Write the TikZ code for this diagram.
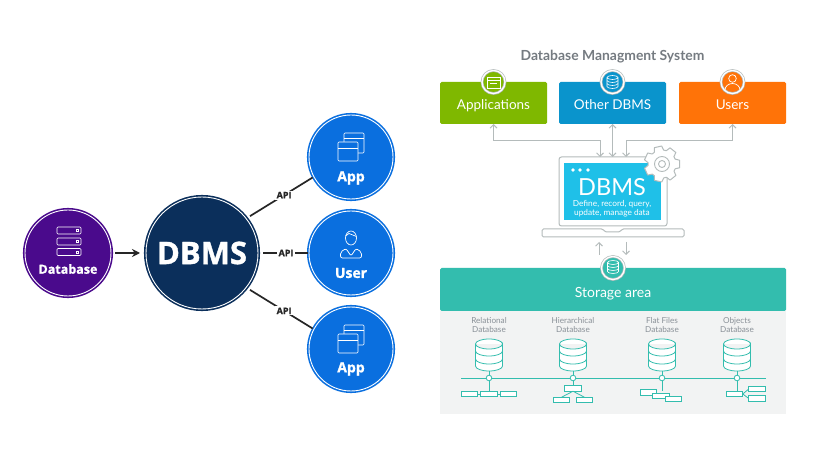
\documentclass[tikz,border=0pt]{standalone}
\usepackage{fontspec}
\setmainfont{Lato}
\newfontfamily\heavyfont[RawFeature={embolden=1.2}]{Open Sans Bold}
\usetikzlibrary{arrows.meta,positioning}
\definecolor{dbpurple}{HTML}{4A0A8C}
\definecolor{dbmsnavy}{HTML}{0B2F5B}
\definecolor{appblue}{HTML}{0A6FDF}
\definecolor{appsgreen}{HTML}{7FB800}
\definecolor{otherblue}{HTML}{0A94CC}
\definecolor{usersorange}{HTML}{FF7308}
\definecolor{screencyan}{HTML}{1FC0E8}
\definecolor{storageteal}{HTML}{33BDAE}
\definecolor{panelgrey}{HTML}{F2F3F3}
\definecolor{linegrey}{HTML}{B4BBBB}
\definecolor{textgrey}{HTML}{8A9198}
\tikzset{
  bubble/.style={circle,draw=#1,fill=#1,double=white,double distance=.9pt,line width=1.6pt,
    minimum size=84pt,inner sep=0pt,outer sep=0pt},
  bubbletext/.style={text=white,font=\heavyfont\fontsize{14}{14}\selectfont,inner sep=0pt},
  apilabel/.style={fill=white,inner sep=1.2pt,font=\heavyfont\fontsize{9}{9}\selectfont,text=black!85},
  apiline/.style={line width=1.7pt,black!85,shorten <=4.5pt,shorten >=1.5pt},
  topbox/.style={rectangle,rounded corners=1.5pt,fill=#1,minimum width=107pt,minimum height=42pt,
    inner sep=0pt,outer sep=0pt},
  boxtext/.style={text=white,anchor=base,font=\fontsize{13.5}{14}\selectfont,inner sep=0pt},
  badge/.style={circle,fill=#1,draw=linegrey,double=white,double distance=1.3pt,line width=.7pt,
    minimum size=23pt,inner sep=0pt},
  greytip/.style={>={Straight Barb[length=3.5pt,width=7pt]},linegrey,line width=.9pt},
  tealline/.style={storageteal,line width=.8pt},
  tealbox/.style={draw=storageteal,line width=.8pt,fill=white,rectangle,minimum width=16.5pt,minimum height=5.5pt,inner sep=0pt,outer sep=0pt},
  dblabel/.style={text=textgrey,font=\fontsize{8.2}{9}\selectfont,align=center,inner sep=0pt},
  appicon/.pic={
    \draw[white,line width=.7pt,fill=appblue,rounded corners=1pt] (-7,-14) rectangle (13,6);
    \draw[white,line width=.7pt] (-7,-9) -- (13,-9);
    \draw[white,line width=.7pt,fill=appblue,rounded corners=1pt] (-13,-5) rectangle (7,14);
    \draw[white,line width=.7pt] (-13,1) -- (7,1);
  },
  cylinder/.pic={
    \draw[tealline,fill=white] (-13.5,-11) -- (-13.5,11) arc[start angle=180,end angle=0,x radius=13.5,y radius=5]
      -- (13.5,-11) arc[start angle=0,end angle=360,x radius=13.5,y radius=5];
    \draw[tealline] (-13.5,-4) arc[start angle=180,end angle=0,x radius=13.5,y radius=5];
    \draw[tealline] (-13.5,4) arc[start angle=180,end angle=0,x radius=13.5,y radius=5];
  },
  smallstack/.pic={
    \draw[white,line width=.6pt] (-5.5,-4.5) -- (-5.5,4.5) arc[start angle=180,end angle=0,x radius=5.5,y radius=2]
      -- (5.5,-4.5) arc[start angle=0,end angle=360,x radius=5.5,y radius=2];
    \draw[white,line width=.6pt] (-5.5,-1.5) arc[start angle=180,end angle=0,x radius=5.5,y radius=2];
    \draw[white,line width=.6pt] (-5.5,1.5) arc[start angle=180,end angle=0,x radius=5.5,y radius=2];
  }
}
\begin{document}
\begin{tikzpicture}[x=1pt,y=-1pt]
  \useasboundingbox[fill=white] (0,0) rectangle (831,465);
  % left part
  \node [bubble=dbpurple,minimum size=86pt] (db) at (68,253) {};
  \node [bubble=dbmsnavy,minimum size=112pt] (dbms) [right=35pt of db] {};
  \node [bubble=appblue] (user) at (351,253) {};
  \node [bubble=appblue] (app_1) [above=12pt of user] {};
  \node [bubble=appblue] (app_2) [below=12pt of user] {};
  \node [bubbletext,font=\heavyfont\fontsize{31}{31}\selectfont] (dbms_text) at (dbms) {DBMS};
  \node [bubbletext,font=\heavyfont\fontsize{12.5}{13}\selectfont] (db_text) at (68,269) {Database};
  \node [bubbletext] (app_1_text) at (351,178) {App};
  \node [bubbletext] (user_text) at (351,273) {User};
  \node [bubbletext] (app_2_text) at (351,369) {App};
  \draw[-{Stealth[length=8pt,width=8pt]},line width=1.5pt,black!85,shorten <=4pt,shorten >=6pt] (db) -- (dbms);
  \draw[apiline] (dbms.38) -- node[apilabel,pos=.56] {API} (app_1.208);
  \draw[apiline,shorten <=0pt] (dbms) ++(61,0) -- node[apilabel] {API} (user.west);
  \draw[apiline] (dbms.-38) -- node[apilabel,pos=.56] {API} (app_2.152);
  % icons of the left part
  \pic at (351,147) {appicon};
  \pic at (351,339) {appicon};
  \foreach \y in {230.5,241.5,252} {
    \draw[white,line width=.7pt,rounded corners=1pt] (57,\y-3.5) rectangle (81,\y+3.5);
    \draw[white,line width=.6pt] (76,\y-1) rectangle (78.5,\y+1);
  }
  \draw[white,line width=.7pt] (351,238) ellipse[x radius=5.5,y radius=7];
  \draw[white,line width=.7pt] (345.5,236) -- (349,233.5) -- (356.5,236.5);
  \draw[white,line width=.7pt,rounded corners=2pt] (340.5,258) -- (340.5,252) -- (346,248.5) -- (351,256) -- (356,248.5) -- (361.5,252) -- (361.5,258) -- cycle;
  % right part
  \node [text=textgrey!85!black,font=\bfseries\fontsize{13.9}{14}\selectfont,inner sep=0pt] (title) at (612.5,57) {Database Managment System};
  \node [topbox=appsgreen] (apps) at (493.5,103) {};
  \node [topbox=otherblue] (other) at (612.5,103) {};
  \node [topbox=usersorange] (users) at (732.5,103) {};
  \node [boxtext] (apps_text) at (493.5,110) {Applications};
  \node [boxtext] (other_text) at (612.5,110) {Other DBMS};
  \node [boxtext] (users_text) at (732.5,110) {Users};
  \node [badge=appsgreen] (apps_badge) at (apps.north) {};
  \node [badge=otherblue] (other_badge) at (other.north) {};
  \node [badge=usersorange] (users_badge) at (users.north) {};
  \draw[white,line width=.6pt] (487,77) rectangle (500,88) (487,80) -- (500,80) (490,83.5) -- (497,83.5);
  \pic at (612.5,82) {smallstack};
  \draw[white,line width=.7pt] (732.5,78.5) circle[radius=3.8] (725,90) arc[start angle=180,end angle=360,x radius=7.5,y radius=6.5];
  % laptop
  \node [rectangle,draw=linegrey,line width=1pt,fill=white,rounded corners=2.5pt,minimum width=108pt,minimum height=69pt,inner sep=0pt,outer sep=0pt] (laptop) at (613,191.5) {};
  \node [rectangle,fill=screencyan,minimum width=97pt,minimum height=57pt,inner sep=0pt] (screen) at (612.5,191.5) {};
  \foreach \x in {573,580,588} { \fill[white] (\x,170) circle[radius=1.8]; }
  \node [text=white,font=\fontsize{23.5}{24}\selectfont,inner sep=0pt] (screen_title) at (612,187) {DBMS};
  \node [text=white,font=\fontsize{8.3}{9.2}\selectfont,align=center,inner sep=0pt] (screen_text) at (612,208.5) {Define, record, query,\\update, manage data};
  \draw[linegrey,line width=1pt,fill=white,rounded corners=1.5pt] (542,229) -- (603,229) -- (605,232) -- (620,232) -- (622,229) -- (684,229) -- (684,237) -- (542,237) -- cycle;
  \coordinate (gear_c) at (662,164);
  \begin{scope}[shift={(gear_c)}]
    \draw[linegrey,line width=1pt,fill=white,line join=round]
      (-12:18) \foreach \a in {0,51.4,102.8,154.2,205.6,257,308.4} { -- (\a-12:18) -- (\a+12:18) -- (\a+20:14) -- (\a+31:14) } -- cycle;
    \draw[linegrey,line width=.9pt] (0,0) circle[radius=7.5];
    \draw[linegrey,line width=.9pt] (0,0) circle[radius=3.5];
  \end{scope}
  \draw[greytip,<->] (apps.south) -- ++(0,16) -| ([xshift=-13pt]laptop.north);
  \draw[greytip,<->] (other.south) -- (other.south |- laptop.north);
  \draw[greytip,<->] (users.south) -- ++(0,16) -| ([xshift=13pt]laptop.north);
  % storage
  \node [rectangle,fill=panelgrey,minimum width=346pt,minimum height=106pt,inner sep=0pt,outer sep=0pt] (panel) at (613,361) {};
  \node [rectangle,fill=storageteal,rounded corners=1.5pt,minimum width=346pt,minimum height=43pt,inner sep=0pt,outer sep=0pt] (storage) at (613,289.5) {};
  \node [boxtext,font=\fontsize{14}{14}\selectfont] (storage_text) at (613,298) {Storage area};
  \node [badge=storageteal] (storage_badge) at (613,268) {};
  \pic at (613,267) {smallstack};
  \coordinate (down_start) at (626,242);
  \coordinate (up_start) at (599,255);
  \draw[greytip,->] (up_start) -- ++(0,-13);
  \draw[greytip,->] (down_start) -- ++(0,13);
  % database columns
  \coordinate (bus_l) at (461,378);
  \coordinate (bus_r) at (766,378);
  \draw[tealline] (bus_l) -- (bus_r);
  \foreach \x/\n/\t in {489/rel/Relational,573/hier/Hierarchical,662/flat/Flat Files,737/obj/Objects} {
    \node [dblabel] (\n_label) at (\x,325.5) {\t\\Database};
    \pic at (\x,355) {cylinder};
    \coordinate (\n_j) at (\x,378);
    \draw[tealline] (\x,371) -- (\x,391);
    \draw[tealline,fill=white] (\n_j) circle[radius=2.8];
  }
  % relational
  \node [tealbox] (rel_a) at (469.5,394) {};
  \node [tealbox] (rel_b) [right=3pt of rel_a] {};
  \node [tealbox] (rel_c) [right=3pt of rel_b] {};
  \draw[tealline] (rel_a) -- (rel_b) (rel_b) -- (rel_c);
  % hierarchical
  \node [tealbox] (hier_a) at (573,388.5) {};
  \node [tealbox] (hier_b) at (561.5,400) {};
  \node [tealbox] (hier_c) at (584.5,400) {};
  \draw[tealline] (hier_a.south) -- (hier_b.north);
  \draw[tealline] (hier_a.south) -- (hier_c.north);
  % flat files
  \node [tealbox] (flat_a) at (648.5,392.5) {};
  \node [tealbox] (flat_b) at (661,396) {};
  \node [tealbox] (flat_c) at (673.5,399) {};
  % objects
  \node [tealbox] (obj_a) at (734.5,394) {};
  \node [tealbox] (obj_b) at (757,389) {};
  \node [tealbox] (obj_c) at (757,398.5) {};
  \draw[tealline] (obj_a.east) -- (obj_b.west);
  \draw[tealline] (obj_a.east) -- (obj_c.west);
\end{tikzpicture}
\end{document}
